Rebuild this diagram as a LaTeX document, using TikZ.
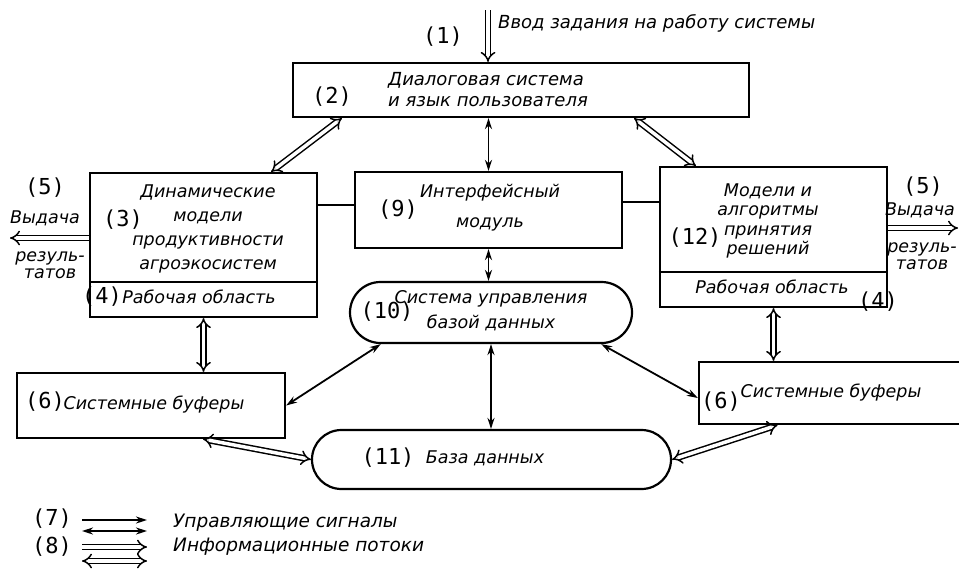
\documentclass[tikz,border=0pt]{standalone}
\usepackage{fontspec}
\setmainfont{DejaVu Sans}
\newfontfamily\numfont{DejaVu Sans Mono}
\usetikzlibrary{arrows.meta,shapes.misc}
\tikzset{
  box/.style={draw, line width=2.2pt, inner sep=0pt, rectangle},
  rbox/.style={draw, line width=2.2pt, inner sep=0pt, rounded rectangle},
  txt/.style={font=\fontsize{17.5}{20}\selectfont\itshape, align=center, inner sep=0pt},
  num/.style={font=\numfont\fontsize{22}{24}\selectfont, inner sep=0pt},
  conn/.style={line width=1.8pt},
  ctl/.style={line width=1.8pt, {Stealth[length=11pt,width=7pt]}-{Stealth[length=11pt,width=7pt]}},
  ctlr/.style={line width=1.8pt, -{Stealth[length=11pt,width=7pt]}},
  inf/.style={double, double distance=3.5pt, line width=1.5pt, {Implies}-{Implies}},
  infr/.style={double, double distance=3.5pt, line width=1.5pt, -{Implies}},
}
\begin{document}
\begin{tikzpicture}[x=1pt,y=-1pt]
\useasboundingbox (0,0) rectangle (959,571);
% boxes
\node[box, minimum width=456pt, minimum height=54pt] (dlg) at (521,90) {};
\node[box, minimum width=227pt, minimum height=144pt] (dyn) at (203.5,245) {};
\node[box, minimum width=267pt, minimum height=76pt] (ifc) at (488.5,210) {};
\node[box, minimum width=227pt, minimum height=140pt] (mdl) at (773.5,237) {};
\node[rbox, minimum width=282pt, minimum height=61pt] (dbms) at (491,312.5) {};
\node[box, minimum width=268pt, minimum height=65pt] (buf1) at (151,405.5) {};
\node[box, minimum width=281pt, minimum height=62pt] (buf2) at (839.5,393) {};
\node[rbox, minimum width=359pt, minimum height=59pt] (db) at (491.5,459.5) {};
% dividers
\draw[conn] ([yshift=-37pt]dyn.west) -- ([yshift=-37pt]dyn.east);
\draw[conn] ([yshift=-35pt]mdl.west) -- ([yshift=-35pt]mdl.east);
% plain connectors
\draw[conn] ([yshift=5pt]ifc.west) -- ([yshift=5pt]ifc.west -| dyn.east);
\draw[conn] ([yshift=8pt]ifc.east) -- ([yshift=8pt]ifc.east -| mdl.west);
% control arrows
\draw[ctl] (ifc.north |- dlg.south) -- (ifc.north);
\draw[ctl] (ifc.south) -- (ifc.south |- dbms.north);
\draw[ctl] (dbms.south) -- (dbms.south |- db.north);
\draw[ctl] (dbms.196) -- (buf1.east);
\draw[ctl] (dbms.344) -- ([yshift=-5pt]buf2.west);
% information arrows
\coordinate (in) at (488,10);
\draw[infr] (in) -- (in |- dlg.north);
\draw[inf] ([xshift=50pt]dlg.south west) -- ([xshift=-47pt]dyn.north east);
\draw[inf] ([xshift=-116pt]dlg.south east) -- ([xshift=37pt]mdl.north west);
\draw[inf] (dyn.south) -- (dyn.south |- buf1.north);
\draw[inf] (mdl.south) -- (mdl.south |- buf2.north);
\draw[inf] ([xshift=52pt]buf1.south) -- (db.west);
\draw[inf] ([xshift=-62pt]buf2.south) -- (db.east);
\coordinate (out1) at (10,238);
\coordinate (out2) at (958,228);
\draw[infr] ([yshift=7pt]dyn.west) -- (out1);
\draw[infr] ([yshift=9pt]mdl.east) -- (out2);
% texts
\node[txt, anchor=west, font=\fontsize{18}{20}\selectfont\itshape] (tin) at (498,23) {Ввод задания на работу системы};
\node[num] (n1) at (443,37) {(1)};
\node[txt, anchor=west, align=left, font=\fontsize{18}{21}\selectfont\itshape] (tdlg) at (388,90) {Диалоговая система\\и язык пользователя};
\node[num] (n2) at (332,97) {(2)};
\node[txt, font=\fontsize{17.5}{24}\selectfont\itshape] (tdyn) at (208,229) {Динамические\\модели\\продуктивности\\агроэкосистем};
\node[num] (n3) at (123,220) {(3)};
\node[num] (n4a) at (102,297) {(4)};
\node[txt] (twa1) at (199,297) {Рабочая область};
\node[num] (n5a) at (45,188) {(5)};
\node[txt] (to1a) at (45,218) {Выдача};
\node[txt, font=\fontsize{17.5}{17}\selectfont\itshape] (to1b) at (50,265) {резуль-\\татов};
\node[num] (n9) at (398,210) {(9)};
\node[txt, font=\fontsize{17.5}{30}\selectfont\itshape] (tifc) at (490,208) {Интерфейсный\\модуль};
\node[num] (n12) at (695,238) {(12)};
\node[txt, font=\fontsize{17.5}{19.3}\selectfont\itshape] (tmdl) at (768,221) {Модели и\\алгоритмы\\принятия\\решений};
\node[txt] (twa2) at (772,287) {Рабочая область};
\node[num] (n4b) at (878,302) {(4)};
\node[num] (n5b) at (923,187) {(5)};
\node[txt] (to2a) at (920,210) {Выдача};
\node[txt, font=\fontsize{17.5}{17}\selectfont\itshape] (to2b) at (922,256) {резуль-\\татов};
\node[num] (n10) at (387,312) {(10)};
\node[txt, font=\fontsize{17.5}{25}\selectfont\itshape] (tdbms) at (491,310.5) {Система управления\\базой данных};
\node[num] (n6a) at (45,402) {(6)};
\node[txt] (tbuf1) at (154,405) {Системные буферы};
\node[num] (n6b) at (721,402) {(6)};
\node[txt] (tbuf2) at (831,393) {Системные буферы};
\node[num] (n11) at (388,458) {(11)};
\node[txt] (tdb) at (485,458) {База данных};
% legend
\node[num] (n7) at (52,519) {(7)};
\node[num] (n8) at (52,547) {(8)};
\coordinate (l1a) at (82,520); \coordinate (l1b) at (147,520);
\coordinate (l2a) at (82,531); \coordinate (l2b) at (147,531);
\coordinate (l3a) at (82,547); \coordinate (l3b) at (147,547);
\coordinate (l4a) at (82,561); \coordinate (l4b) at (147,561);
\draw[ctlr] (l1a) -- (l1b);
\draw[ctl] (l2a) -- (l2b);
\draw[infr] (l3a) -- (l3b);
\draw[inf] (l4a) -- (l4b);
\node[txt, anchor=west, font=\fontsize{18.5}{20}\selectfont\itshape] (tctl) at (173,523) {Управляющие сигналы};
\node[txt, anchor=west, font=\fontsize{18.5}{20}\selectfont\itshape] (tinf) at (173,547) {Информационные потоки};
\end{tikzpicture}
\end{document}
